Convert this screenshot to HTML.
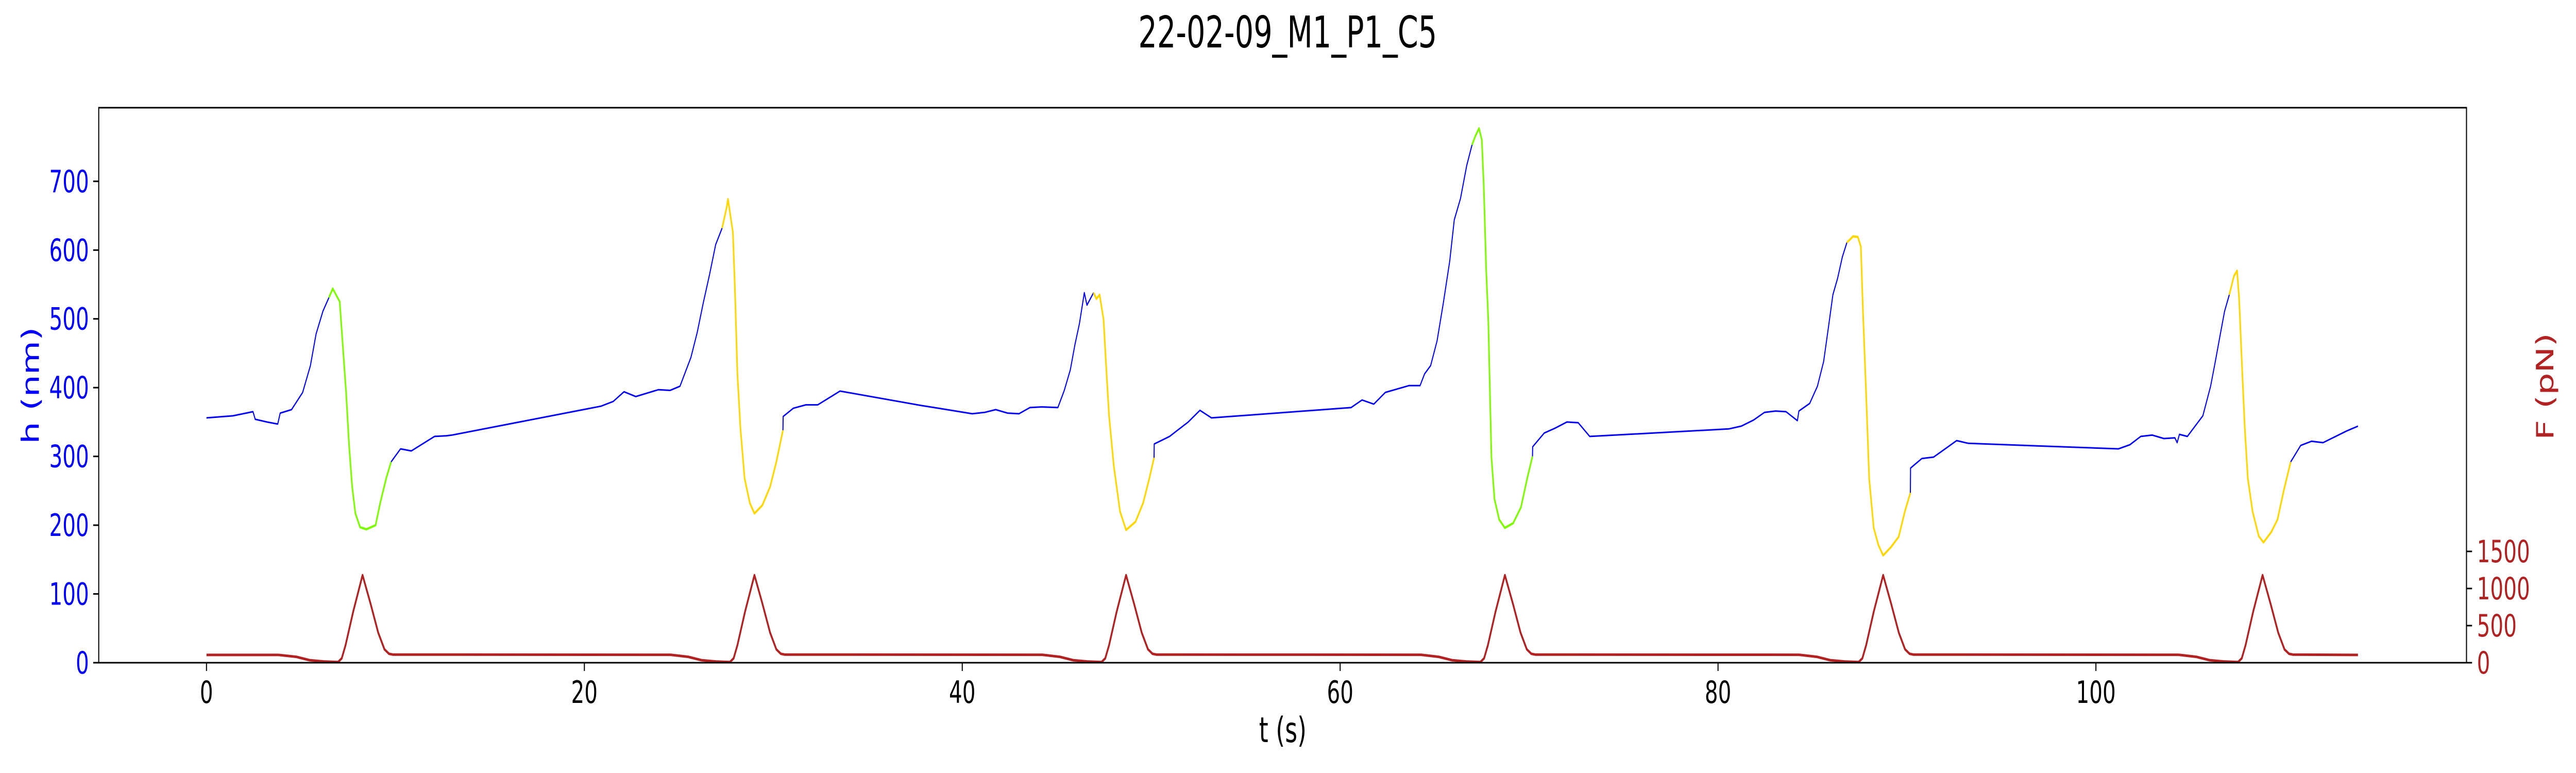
<!DOCTYPE html>
<html><head><meta charset="utf-8"><style>
html,body{margin:0;padding:0;background:#fff;overflow:hidden;width:100%;height:100%;}
svg{display:block;width:100vw;height:100vh;font-family:"DejaVu Sans","Liberation Sans",sans-serif;}
</style></head><body>
<svg id="chart" viewBox="0 0 7410 1500" preserveAspectRatio="none" xmlns="http://www.w3.org/2000/svg">
<rect x="0" y="0" width="7410" height="1500" fill="#fff"/>
<text x="3704" y="92" font-size="85" text-anchor="middle" fill="#000">22-02-09_M1_P1_C5</text>
<g id="marks"></g>
<g id="axes"></g>
</svg>
<script>
// height series h (nm) vs time t (s)
const hT = [0,1.40,2.46,2.58,3.2,3.77,3.9,4.5,5.09,5.5,5.8,6.16,6.48,6.68,7.05,7.22,7.39,7.55,7.71,7.88,8.13,8.46,8.95,9.2,9.52,9.77,10.27,10.84,12.07,12.7,12.99,20.88,21.53,22.1,22.72,23.92,24.54,25.06,25.64,25.97,26.29,26.63,26.95,27.29,27.53,27.6,27.86,27.97,28.1,28.26,28.48,28.76,29.0,29.42,29.83,30.16,30.51,30.52,31.06,31.72,32.35,33.53,37.83,38.75,40.53,41.19,41.77,42.4,43.0,43.58,44.2,45.06,45.4,45.72,45.96,46.2,46.46,46.6,46.95,47.1,47.27,47.48,47.6,47.77,48.02,48.35,48.67,49.17,49.57,49.9,50.15,50.16,50.97,51.96,52.58,53.19,60.58,61.16,61.78,62.39,63.65,64.23,64.47,64.79,65.13,65.46,65.8,66.04,66.37,66.7,66.98,67.16,67.35,67.5,67.6,67.73,67.84,67.93,68.01,68.17,68.42,68.72,69.16,69.57,69.9,70.18,70.19,70.8,71.37,72.0,72.6,73.21,80.57,81.23,81.89,82.46,83.04,83.6,84.2,84.28,84.85,85.26,85.59,85.84,86.08,86.33,86.58,86.82,87.15,87.4,87.56,87.67,87.84,88.0,88.24,88.49,88.74,89.15,89.56,89.89,90.18,90.19,90.79,91.41,92.02,92.63,93.25,101.19,101.8,102.37,102.98,103.6,104.18,104.3,104.42,104.84,105.25,105.66,106.07,106.32,106.56,106.81,107.06,107.3,107.47,107.58,107.75,107.88,108.04,108.29,108.62,108.87,109.28,109.61,109.94,110.31,110.84,111.41,112.02,113.27,113.87];
const hV = [356,359,365,354,350,347,363,368,393,432,478,511,531,544,525,459,393,315,256,217,197,194,200,233,269,292,311,308,329,330,331,373,380,394,387,397,396,402,444,480,523,565,608,632,662,674,626,541,420,341,268,232,217,229,256,292,338,358,370,375,375,395,374,370,362,364,368,363,362,371,372,371,396,426,462,493,538,520,538,529,535,499,438,359,286,220,193,205,232,268,298,318,329,350,367,356,371,382,376,393,403,403,420,432,468,523,584,644,675,723,753,766,777,760,693,571,499,390,298,238,208,196,203,226,268,300,314,334,341,350,349,329,340,344,353,364,366,365,352,366,377,402,438,487,535,559,590,611,620,619,605,511,390,268,196,171,156,168,183,220,247,283,297,299,311,323,319,311,317,329,331,326,327,320,332,329,344,359,402,438,474,511,535,562,570,529,420,341,268,220,184,175,190,208,250,292,316,322,320,337,344];
// release phases: start time, end time, colour
const phaseStart = [6.68, 27.53, 47.1, 67.16, 87.15, 107.3];
const phaseEnd   = [9.77, 30.51, 50.15, 70.18, 90.18, 110.31];
const phaseColor = ["#7CFC00","#FFD700","#FFD700","#7CFC00","#FFD700","#FFD700"];
// force series F (pN)
const fT = [0,3.82,4.76,5.46,6.21,6.96,7.16,7.36,7.76,8.26,8.68,9.09,9.42,9.66,9.86,
24.56,25.5,26.2,26.95,27.7,27.9,28.1,28.5,29.0,29.42,29.83,30.16,30.4,30.6,
44.23,45.17,45.87,46.62,47.37,47.57,47.77,48.17,48.67,49.09,49.5,49.83,50.07,50.27,
64.28,65.22,65.92,66.67,67.42,67.62,67.82,68.22,68.72,69.14,69.55,69.88,70.12,70.32,
84.3,85.24,85.94,86.69,87.44,87.64,87.84,88.24,88.74,89.16,89.57,89.9,90.14,90.34,
104.38,105.32,106.02,106.77,107.52,107.72,107.92,108.32,108.82,109.24,109.65,109.98,110.22,110.42,113.87];
const fV = [105,105,79,34,17,8,60,236,685,1180,798,404,180,120,110,
107,79,34,17,8,60,236,685,1180,798,404,180,120,110,
107,79,34,17,8,60,236,685,1180,798,404,180,120,110,
107,79,34,17,8,60,236,685,1180,798,404,180,120,110,
107,79,34,17,8,60,236,685,1180,798,404,180,120,110,
107,79,34,17,8,60,236,685,1180,798,404,180,120,110,105];
const xTicks = [0,20,40,60,80,100];
const hTicks = [0,100,200,300,400,500,600,700];
const fTicks = [0,500,1000,1500];

const NS="http://www.w3.org/2000/svg";
const L=284,R=7095,T=209,B=1286;
const xs=t=>594+54.35*t;
const yh=h=>B-1.3345*h;
const yf=f=>B-0.144*f;
const marks=document.getElementById('marks');
const axes=document.getElementById('axes');
function mk(tag,parent){const e=document.createElementNS(NS,tag);parent.appendChild(e);return e;}

function phaseOf(t){for(let i=0;i<phaseStart.length;i++){if(t>=phaseStart[i]&&t<=phaseEnd[i])return i;}return -1;}
let segs=[];let cur=null;
for(let i=0;i<hT.length;i++){
  const p=phaseOf(hT[i]);
  const col=p<0?"#0000FF":phaseColor[p];
  const pt=[xs(hT[i]),yh(hV[i])];
  if(!cur||cur.col!==col){
    if(cur){const last=cur.pts[cur.pts.length-1];cur={col:col,pts:[last]};}else cur={col:col,pts:[]};
    segs.push(cur);
  }
  cur.pts.push(pt);
}
segs.forEach((s,i)=>{
  const pl=mk('polyline',marks);
  
  
  pl.setAttribute('points',s.pts.map(p=>p[0].toFixed(1)+','+p[1].toFixed(1)).join(' '));
  pl.setAttribute('fill','none');pl.setAttribute('stroke',s.col);
  pl.setAttribute('stroke-width',s.col==="#0000FF"?3:4.5);
  pl.setAttribute('stroke-linejoin','round');
});
const fl=mk('polyline',marks);


fl.setAttribute('points',fT.map((t,i)=>xs(t).toFixed(1)+','+yf(fV[i]).toFixed(1)).join(' '));
fl.setAttribute('fill','none');fl.setAttribute('stroke','#B22222');fl.setAttribute('stroke-width',5);fl.setAttribute('stroke-linejoin','round');

const fr=mk('rect',axes);


fr.setAttribute('x',L);fr.setAttribute('y',T);fr.setAttribute('width',R-L);fr.setAttribute('height',B-T);
fr.setAttribute('fill','none');fr.setAttribute('stroke','#000');fr.setAttribute('stroke-width',3);

function line(x1,y1,x2,y2,parent){const l=mk('line',parent);l.setAttribute('x1',x1);l.setAttribute('y1',y1);l.setAttribute('x2',x2);l.setAttribute('y2',y2);l.setAttribute('stroke','#000');l.setAttribute('stroke-width',3);return l;}
function txt(s,x,y,size,col,anchor,parent){const e=mk('text',parent);e.textContent=s;e.setAttribute('x',x);e.setAttribute('y',y);e.setAttribute('font-size',size);e.setAttribute('fill',col);e.setAttribute('text-anchor',anchor);return e;}

xTicks.forEach(v=>{
  const l=line(xs(v),B,xs(v),B+16,axes);
  
  
  const t=txt(String(v),xs(v),B+78,60,'#000','middle',axes);
  
  
});
hTicks.forEach(v=>{
  const l=line(L-16,yh(v),L,yh(v),axes);
  
  
  const t=txt(String(v),L-28,yh(v)+21,60,'#0000FF','end',axes);
  
  
});
fTicks.forEach(v=>{
  const l=line(R,yf(v),R+16,yf(v),axes);
  
  
  const t=txt(String(v),R+30,yf(v)+21,60,'#B22222','start',axes);
  
  
});
const xl=txt('t (s)',3690,1440,68,'#000','middle',axes);


const yl=txt('h (nm)',0,0,68,'#0000FF','middle',axes);
yl.setAttribute('transform','translate(112,748) rotate(-90)');


const fl2=txt('F (pN)',0,0,68,'#B22222','middle',axes);
fl2.setAttribute('transform','translate(7345,750) rotate(-90)');


</script>
</body></html>
